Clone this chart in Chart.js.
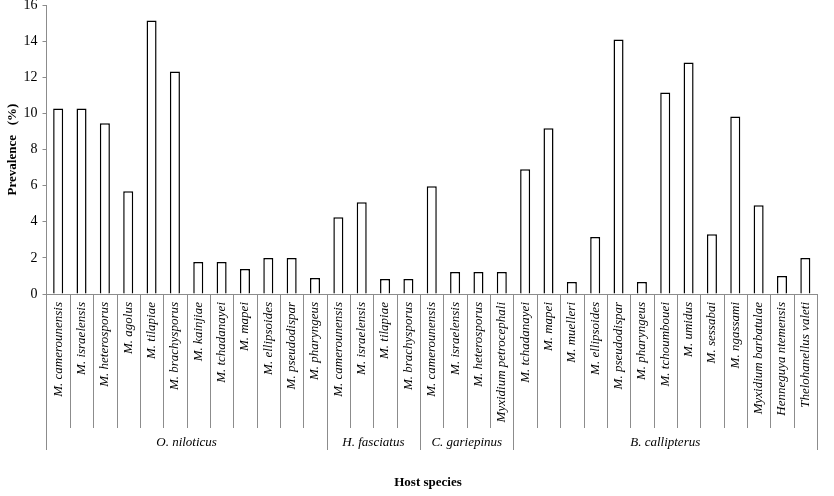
<!DOCTYPE html>
<html>
<head>
<meta charset="utf-8">
<script src="https://cdn.jsdelivr.net/npm/chart.js@4.4.0/dist/chart.umd.min.js"></script>
<style>
  html, body { margin: 0; padding: 0; background: #fff; }
  #wrap { width: 834px; height: 496px; position: relative; }
</style>
</head>
<body>
<div id="wrap"><canvas id="c" width="834" height="496"></canvas></div>
<script>
const parasites = [
  "M. camerounensis", "M. israelensis", "M. heterosporus", "M. agolus", "M. tilapiae",
  "M. brachysporus", "M. kainjiae", "M. tchadanayei", "M. mapei", "M. ellipsoides",
  "M. pseudodispar", "M. pharyngeus",
  "M. camerounensis", "M. israelensis", "M. tilapiae", "M. brachysporus",
  "M. camerounensis", "M. israelensis", "M. heterosporus", "Myxidium petrocephali",
  "M. tchadanayei", "M. mapei", "M. muelleri", "M. ellipsoides", "M. pseudodispar",
  "M. pharyngeus", "M. tchoumbouei", "M. umidus", "M. sessabai", "M. ngassami",
  "Myxidium barbatulae", "Henneguya ntemensis", "Thelohanellus valeti"
];
const prevalence = [
  10.27, 10.27, 9.45, 5.69, 15.14, 12.32, 1.77, 1.77, 1.38, 1.99, 1.99, 0.88,
  4.25, 5.08, 0.83, 0.83,
  5.97, 1.22, 1.22, 1.22,
  6.91, 9.17, 0.66, 3.15, 14.09, 0.66, 11.16, 12.82, 3.31, 9.83, 4.92, 0.99, 1.99
];
const hostNames = ["O. niloticus", "H. fasciatus", "C. gariepinus", "B. callipterus"];
const hostCounts = [12, 4, 4, 13];
const yTicks = [0, 2, 4, 6, 8, 10, 12, 14, 16];

const SERIF = "'Liberation Serif', 'Times New Roman', serif";

const groupPlugin = {
  id: 'groups',
  afterDraw(chart) {
    const ctx = chart.ctx;
    const x = chart.scales.x;
    const area = chart.chartArea;
    const half = (x.getPixelForValue(1) - x.getPixelForValue(0)) / 2;
    const yAxis = area.bottom;
    const catBottom = 428;
    const grpBottom = 450;
    ctx.save();
    ctx.strokeStyle = '#8c8c8c';
    ctx.lineWidth = 1;
    const groupEdges = new Set();
    let acc = 0;
    groupEdges.add(0);
    hostCounts.forEach(n => { acc += n; groupEdges.add(acc); });
    for (let i = 0; i <= parasites.length; i++) {
      const px = Math.round(x.getPixelForValue(i) - half) + 0.5;
      const bottom = groupEdges.has(i) ? grpBottom : catBottom;
      ctx.beginPath();
      ctx.moveTo(px, yAxis);
      ctx.lineTo(px, bottom);
      ctx.stroke();
    }
    ctx.fillStyle = '#000';
    ctx.font = 'italic 13px ' + SERIF;
    ctx.textAlign = 'center';
    ctx.textBaseline = 'middle';
    let start = 0;
    hostNames.forEach((name, gi) => {
      const end = start + hostCounts[gi] - 1;
      const cx = (x.getPixelForValue(start) + x.getPixelForValue(end)) / 2;
      ctx.fillText(name, cx, 443);
      start += hostCounts[gi];
    });
    ctx.font = 'bold 13px ' + SERIF;
    ctx.fillText('Host species', 428, 483);
    ctx.restore();
  }
};

new Chart(document.getElementById('c'), {
  type: 'bar',
  data: {
    labels: parasites,
    datasets: [{
      data: prevalence,
      backgroundColor: '#ffffff',
      borderColor: '#000000',
      borderWidth: 1.5,
      barPercentage: 0.43,
      categoryPercentage: 1.0
    }]
  },
  options: {
    responsive: false,
    animation: false,
    devicePixelRatio: 1,
    layout: { padding: { top: 5, right: 17, bottom: 0, left: 0 } },
    plugins: {
      legend: { display: false },
      tooltip: { enabled: false }
    },
    scales: {
      x: {
        offset: true,
        grid: { display: true, drawOnChartArea: false, drawTicks: false },
        border: { display: true, color: '#8c8c8c', width: 1 },
        ticks: {
          autoSkip: false,
          maxRotation: 90,
          minRotation: 90,
          padding: 8,
          color: '#000',
          font: { family: SERIF, size: 13, style: 'italic' }
        },
        afterFit(s) { s.height = 202; }
      },
      y: {
        min: 0,
        max: 16,
        afterBuildTicks(s) { s.ticks = yTicks.map(v => ({ value: v })); },
        grid: { display: true, drawOnChartArea: false, drawTicks: true, tickLength: 4, color: '#8c8c8c' },
        border: { display: true, color: '#8c8c8c', width: 1 },
        ticks: {
          padding: 5,
          color: '#000',
          font: { family: SERIF, size: 14 }
        },
        title: {
          display: true,
          text: 'Prevalence   (%)',
          color: '#000',
          font: { family: SERIF, size: 13, weight: 'bold' },
          padding: { top: 5, bottom: 0 }
        },
        afterFit(s) { s.width = 46.5; s.paddingTop = 0; s.paddingBottom = 0; }
      }
    }
  },
  plugins: [groupPlugin]
});
</script>
</body>
</html>
